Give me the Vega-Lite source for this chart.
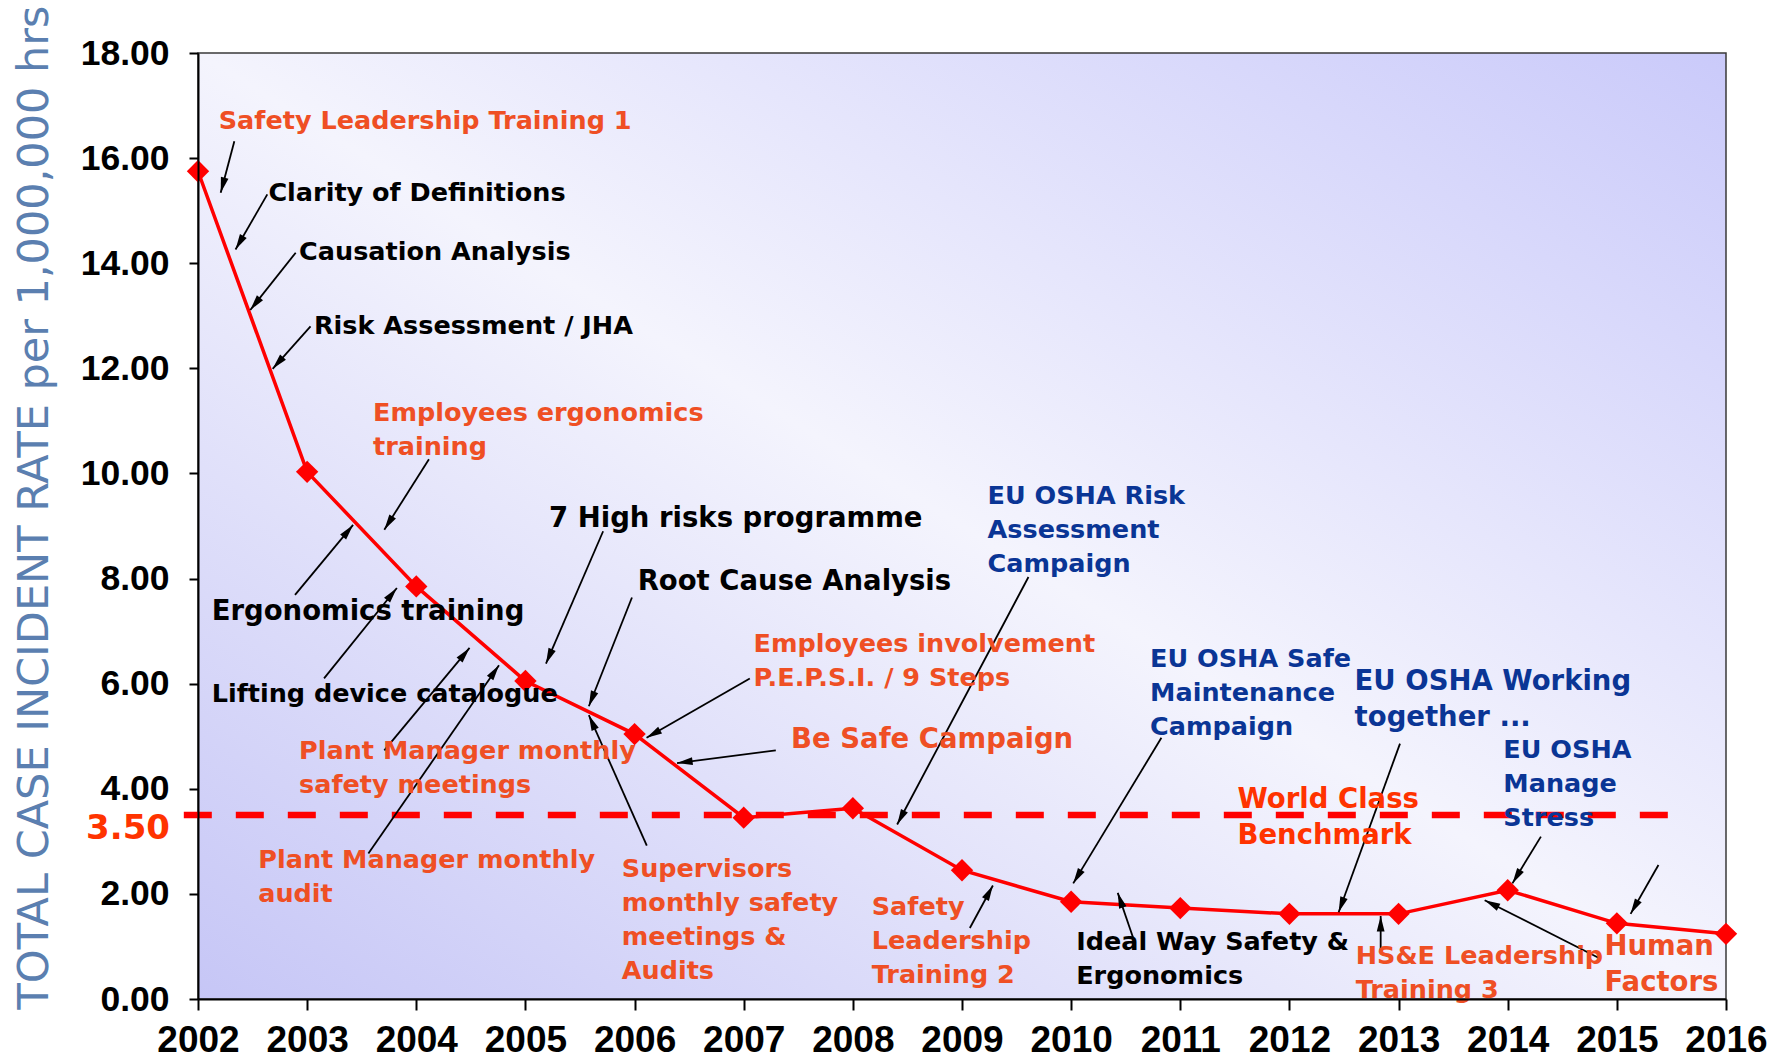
{
  "$schema": "https://vega.github.io/schema/vega-lite/v6.json",
  "autosize": {"type": "none"},
  "padding": {"left": 198, "top": 53, "right": 55, "bottom": 64},
  "width": 1528,
  "height": 946,
  "background": "white",
  "config": {"view": {"stroke": null}},
  "datasets": {
    "series": [
      {"year": 2002, "rate": 15.75},
      {"year": 2003, "rate": 10.03},
      {"year": 2004, "rate": 7.85},
      {"year": 2005, "rate": 6.05},
      {"year": 2006, "rate": 5.04},
      {"year": 2007, "rate": 3.45},
      {"year": 2008, "rate": 3.63},
      {"year": 2009, "rate": 2.45},
      {"year": 2010, "rate": 1.85},
      {"year": 2011, "rate": 1.73},
      {"year": 2012, "rate": 1.62},
      {"year": 2013, "rate": 1.62},
      {"year": 2014, "rate": 2.07},
      {"year": 2015, "rate": 1.44},
      {"year": 2016, "rate": 1.24}
    ],
    "notes": [
      {"label": "Safety Leadership Training 1", "year": 2002.19, "rate": 16.94, "type": "Company programme"},
      {"label": "Clarity of Definitions", "year": 2002.645, "rate": 15.56, "type": "Tool"},
      {"label": "Causation Analysis", "year": 2002.926, "rate": 14.44, "type": "Tool"},
      {"label": "Risk Assessment / JHA", "year": 2003.062, "rate": 13.03, "type": "Tool"},
      {"label": "Employees ergonomics\ntraining", "year": 2003.603, "rate": 11.37, "type": "Company programme"},
      {"label": "7 High risks programme", "year": 2005.216, "rate": 9.40, "type": "Tool"},
      {"label": "Ergonomics training", "year": 2002.125, "rate": 7.63, "type": "Tool"},
      {"label": "Root Cause Analysis", "year": 2006.028, "rate": 8.21, "type": "Tool"},
      {"label": "Lifting device catalogue", "year": 2002.125, "rate": 6.03, "type": "Tool"},
      {"label": "Employees involvement\nP.E.P.S.I. / 9 Steps", "year": 2007.09, "rate": 6.98, "type": "Company programme"},
      {"label": "Be Safe Campaign", "year": 2007.434, "rate": 5.19, "type": "Company programme"},
      {"label": "Plant Manager monthly\nsafety meetings", "year": 2002.926, "rate": 4.95, "type": "Company programme"},
      {"label": "Plant Manager monthly\naudit", "year": 2002.552, "rate": 2.87, "type": "Company programme"},
      {"label": "Supervisors\nmonthly safety\nmeetings &\nAudits", "year": 2005.883, "rate": 2.70, "type": "Company programme"},
      {"label": "Safety\nLeadership\nTraining 2", "year": 2008.173, "rate": 1.97, "type": "Company programme"},
      {"label": "EU OSHA Risk\nAssessment\nCampaign", "year": 2009.234, "rate": 9.79, "type": "EU-OSHA campaign"},
      {"label": "Ideal Way Safety &\nErgonomics", "year": 2010.046, "rate": 1.32, "type": "Tool"},
      {"label": "EU OSHA Safe\nMaintenance\nCampaign", "year": 2010.723, "rate": 6.70, "type": "EU-OSHA campaign"},
      {"label": "EU OSHA Working\ntogether ...", "year": 2012.597, "rate": 6.29, "type": "EU-OSHA campaign"},
      {"label": "World Class\nBenchmark", "year": 2011.524, "rate": 4.06, "type": "Benchmark"},
      {"label": "EU OSHA\nManage\nStress", "year": 2013.96, "rate": 4.97, "type": "EU-OSHA campaign"},
      {"label": "HS&E Leadership\nTraining 3", "year": 2012.607, "rate": 1.04, "type": "Company programme"},
      {"label": "Human\nFactors", "year": 2014.886, "rate": 1.25, "type": "Company programme"}
    ],
    "arrows": [
      {"x1": 2002.333, "y1": 16.32, "x2": 2002.208, "y2": 15.34},
      {"x1": 2002.635, "y1": 15.31, "x2": 2002.344, "y2": 14.26},
      {"x1": 2002.895, "y1": 14.20, "x2": 2002.479, "y2": 13.11},
      {"x1": 2003.031, "y1": 12.80, "x2": 2002.684, "y2": 11.99},
      {"x1": 2004.116, "y1": 10.27, "x2": 2003.707, "y2": 8.93},
      {"x1": 2005.712, "y1": 8.90, "x2": 2005.188, "y2": 6.38},
      {"x1": 2002.889, "y1": 7.69, "x2": 2003.421, "y2": 9.02},
      {"x1": 2005.976, "y1": 7.64, "x2": 2005.581, "y2": 5.57},
      {"x1": 2003.155, "y1": 6.10, "x2": 2003.822, "y2": 7.82},
      {"x1": 2007.056, "y1": 6.10, "x2": 2006.110, "y2": 4.97},
      {"x1": 2007.294, "y1": 4.73, "x2": 2006.389, "y2": 4.49},
      {"x1": 2003.707, "y1": 4.73, "x2": 2004.488, "y2": 6.68},
      {"x1": 2003.561, "y1": 2.77, "x2": 2004.758, "y2": 6.35},
      {"x1": 2006.112, "y1": 2.92, "x2": 2005.581, "y2": 5.40},
      {"x1": 2009.072, "y1": 1.35, "x2": 2009.283, "y2": 2.16},
      {"x1": 2009.609, "y1": 8.03, "x2": 2008.406, "y2": 3.32},
      {"x1": 2010.567, "y1": 1.17, "x2": 2010.427, "y2": 2.02},
      {"x1": 2010.827, "y1": 4.97, "x2": 2010.019, "y2": 2.20},
      {"x1": 2013.013, "y1": 4.86, "x2": 2012.451, "y2": 1.65},
      {"x1": 2014.304, "y1": 3.09, "x2": 2014.043, "y2": 2.20},
      {"x1": 2015.381, "y1": 2.55, "x2": 2015.126, "y2": 1.62},
      {"x1": 2014.845, "y1": 0.77, "x2": 2013.789, "y2": 1.88},
      {"x1": 2012.836, "y1": 0.93, "x2": 2012.836, "y2": 1.58}
    ]
  },
  "layer": [
    {
      "data": {"values": [{}]},
      "mark": {
        "type": "rect",
        "fill": {"gradient": "linear", "x1": 0, "y1": 1, "x2": 1, "y2": 0,
          "stops": [
            {"offset": 0, "color": "#C6C6F6"},
            {"offset": 0.5, "color": "#F4F4FD"},
            {"offset": 1, "color": "#CACAFA"}
          ]},
        "stroke": "#3a3a3a",
        "strokeWidth": 1.5
      },
      "encoding": {
        "x": {"datum": 2002, "type": "quantitative"},
        "x2": {"datum": 2016},
        "y": {"datum": 0, "type": "quantitative"},
        "y2": {"datum": 18}
      }
    },
    {
      "data": {"values": [{}]},
      "mark": {"type": "rule", "color": "#FF0000", "strokeWidth": 6.5, "strokeDash": [28, 24]},
      "encoding": {
        "x": {"datum": 2001.87, "type": "quantitative"},
        "x2": {"datum": 2015.52},
        "y": {"datum": 3.5, "type": "quantitative"}
      }
    },
    {
      "data": {"name": "series"},
      "mark": {"type": "line", "color": "#FF0000", "strokeWidth": 3.5},
      "encoding": {
        "x": {
          "field": "year", "type": "quantitative",
          "scale": {"domain": [2002, 2016], "nice": false, "zero": false},
          "axis": {
            "title": null,
            "values": [2002, 2003, 2004, 2005, 2006, 2007, 2008, 2009, 2010, 2011, 2012, 2013, 2014, 2015, 2016],
            "format": "d",
            "labelFont": "Liberation Sans",
            "labelFontWeight": "bold",
            "labelFontSize": 37,
            "labelColor": "#000000",
            "labelPadding": 12,
            "labelOverlap": false,
            "labelFlush": false,
            "tickSize": 11,
            "tickWidth": 2,
            "tickColor": "#000000",
            "domainColor": "#000000",
            "domainWidth": 2,
            "grid": false,
            "zindex": 1
          }
        },
        "y": {
          "field": "rate", "type": "quantitative",
          "scale": {"domain": [0, 18], "nice": false},
          "axis": {
            "title": "TOTAL CASE INCIDENT RATE per 1,000,000 hrs",
            "titleFont": "DejaVu Sans",
            "titleFontWeight": "normal",
            "titleFontSize": 43,
            "titleColor": "#5B7FB0",
            "titleAngle": -90,
            "titleX": -164,
            "titleY": 454,
            "titleAlign": "center",
            "titleBaseline": "middle",
            "values": [0, 2, 4, 6, 8, 10, 12, 14, 16, 18],
            "format": ".2f",
            "labelFont": "Liberation Sans",
            "labelFontWeight": "bold",
            "labelFontSize": 35.5,
            "labelColor": "#000000",
            "labelPadding": 20,
            "labelOverlap": false,
            "labelFlush": false,
            "tickSize": 9,
            "tickWidth": 2,
            "tickColor": "#000000",
            "domainColor": "#000000",
            "domainWidth": 2,
            "grid": false,
            "zindex": 1
          }
        }
      }
    },
    {
      "data": {"name": "series"},
      "mark": {"type": "point", "shape": "diamond", "filled": true, "color": "#FF0000", "size": 500, "opacity": 1},
      "encoding": {
        "x": {"field": "year", "type": "quantitative"},
        "y": {"field": "rate", "type": "quantitative"}
      }
    },
    {
      "data": {"name": "arrows"},
      "mark": {"type": "rule", "color": "#000000", "strokeWidth": 1.8},
      "encoding": {
        "x": {"field": "x1", "type": "quantitative"},
        "x2": {"field": "x2"},
        "y": {"field": "y1", "type": "quantitative"},
        "y2": {"field": "y2"}
      }
    },
    {
      "data": {"name": "arrows"},
      "transform": [
        {"calculate": "atan2((datum.x2 - datum.x1) * 109.14, (datum.y2 - datum.y1) * 52.56) * 180 / PI", "as": "angle"}
      ],
      "mark": {"type": "point", "shape": "M0,0L-0.45,1.8L0.45,1.8Z", "filled": true, "color": "#000000", "size": 300, "opacity": 1},
      "encoding": {
        "x": {"field": "x2", "type": "quantitative"},
        "y": {"field": "y2", "type": "quantitative"},
        "angle": {"field": "angle", "type": "quantitative", "scale": null}
      }
    },
    {
      "data": {"name": "notes"},
      "transform": [
        {"filter": "!test(regexp('^(Root|7 High|Be Safe|Ergonomics training|EU OSHA Working|World Class|Human)'), datum.label)"}
      ],
      "mark": {"type": "text", "font": "DejaVu Sans", "fontWeight": "bold", "fontSize": 25.5, "align": "left", "baseline": "top", "lineBreak": "\n", "lineHeight": 34},
      "encoding": {
        "x": {"field": "year", "type": "quantitative"},
        "y": {"field": "rate", "type": "quantitative"},
        "text": {"field": "label"},
        "color": {
          "field": "type", "type": "nominal", "legend": null,
          "scale": {"domain": ["Company programme", "Tool", "EU-OSHA campaign", "Benchmark"], "range": ["#EF4F24", "#000000", "#0A3595", "#FF3300"]}
        }
      }
    },
    {
      "data": {"name": "notes"},
      "transform": [
        {"filter": "test(regexp('^(Root|7 High|Be Safe|Ergonomics training|EU OSHA Working|World Class|Human)'), datum.label)"}
      ],
      "mark": {"type": "text", "font": "DejaVu Sans", "fontWeight": "bold", "fontSize": 27.5, "align": "left", "baseline": "top", "lineBreak": "\n", "lineHeight": 36},
      "encoding": {
        "x": {"field": "year", "type": "quantitative"},
        "y": {"field": "rate", "type": "quantitative"},
        "text": {"field": "label"},
        "color": {
          "field": "type", "type": "nominal", "legend": null,
          "scale": {"domain": ["Company programme", "Tool", "EU-OSHA campaign", "Benchmark"], "range": ["#EF4F24", "#000000", "#0A3595", "#FF3300"]}
        }
      }
    },
    {
      "data": {"values": [{}]},
      "mark": {"type": "text", "text": "3.50", "font": "DejaVu Sans", "fontWeight": "bold", "fontSize": 34, "color": "#FF3300", "align": "right", "baseline": "middle", "dx": -28, "dy": 14},
      "encoding": {
        "x": {"datum": 2002, "type": "quantitative"},
        "y": {"datum": 3.5, "type": "quantitative"}
      }
    }
  ]
}
